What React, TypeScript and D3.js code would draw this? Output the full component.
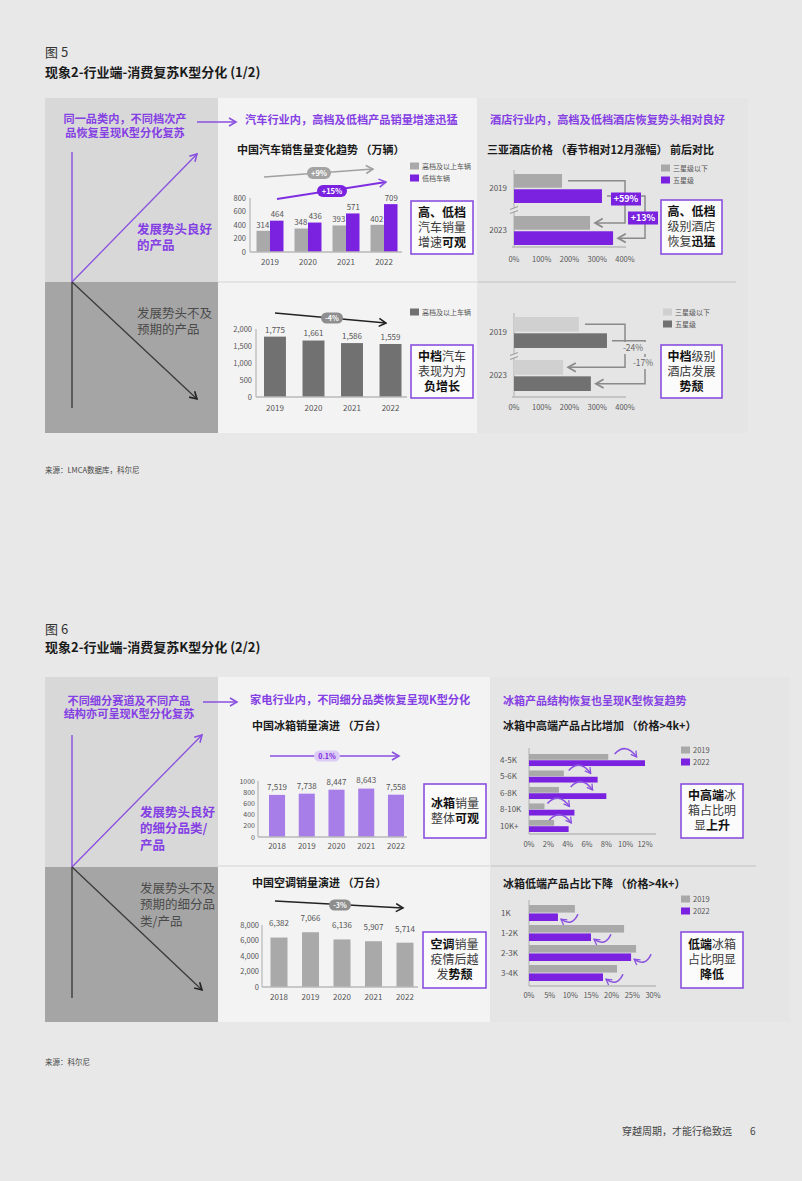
import React from 'react';
import * as d3 from 'd3';

// ---------- data ----------
const carYears = ['2019', '2020', '2021', '2022'];
const carHigh = [314, 348, 393, 402];
const carLow = [464, 436, 571, 709];
const carMid = [1775, 1661, 1586, 1559];
const carTicksTop = [0, 200, 400, 600, 800];
const carTicksBottom = [0, 500, 1000, 1500, 2000];

const hotelYears = ['2019', '2023'];
const hotelTopThree = [173, 274];
const hotelTopFive = [317, 357];
const hotelMidThree = [234, 177];
const hotelMidFive = [335, 277];
const hotelTicks = [0, 100, 200, 300, 400];

const fridgeYears = ['2018', '2019', '2020', '2021', '2022'];
const fridgeSales = [7519, 7738, 8447, 8643, 7558];
const fridgeTicks = [0, 2000, 4000, 6000, 8000, 10000];
const fridgeTickLabels = ['0', '200', '400', '600', '800', '1000'];
const acSales = [6382, 7066, 6136, 5907, 5714];
const acTicks = [0, 2000, 4000, 6000, 8000];

const highCats = ['4-5K', '5-6K', '6-8K', '8-10K', '10K+'];
const high2019 = [8.2, 3.6, 3.1, 1.6, 2.6];
const high2022 = [12.0, 7.1, 8.0, 4.7, 4.1];
const highTicks = [0, 2, 4, 6, 8, 10, 12];

const lowCats = ['1K', '1-2K', '2-3K', '3-4K'];
const low2019 = [11.1, 23.0, 25.9, 21.3];
const low2022 = [7.0, 15.0, 24.7, 17.9];
const lowTicks = [0, 5, 10, 15, 20, 25, 30];

// ---------- style ----------
const FONT = '"Noto Sans CJK SC", "Noto Sans", sans-serif';
const PURPLE = '#7a22e0';
const PURPLE_TXT = '#8540e4';
const LIGHT_PURPLE = '#a77ee8';
const PAGE_BG = '#e8e8e8';
const MID_BG = '#f3f3f3';
const RIGHT_BG = '#e5e5e5';
const LEFT_TOP = '#d8d8d8';
const LEFT_BOT = '#a5a5a5';
const GRAY_BAR = '#a9a9a9';
const DARK_BAR = '#717171';
const LIGHT_BAR = '#d0d0d0';
const TICK = '#555';
const AXIS = '#b8b8b8';

const fmtC = d3.format(',');

function Txt({ x, y, s = 8, w = 400, c = TICK, a = 'start', children }: any) {
  return (
    <text x={x} y={y + s * 0.36} fontSize={s} fontWeight={w} fill={c} textAnchor={a}>
      {children}
    </text>
  );
}

function Callout({ x, y, w, h, lines }: any) {
  const s = 12;
  const lh = 15;
  const cy = y + h / 2;
  const start = cy - ((lines.length - 1) * lh) / 2;
  return (
    <g>
      <rect x={x} y={y} width={w} height={h} fill="#fbfbfb" stroke="#8a4fe0" strokeWidth={1.6} />
      {lines.map((ln: any, i: number) => (
        <text key={i} x={x + w / 2} y={start + i * lh + s * 0.36} fontSize={s} textAnchor="middle">
          {ln.map((p: any, j: number) => (
            <tspan key={j} fontWeight={p[1] ? 700 : 400} fill={p[1] ? '#111' : '#3a3a3a'}>
              {p[0]}
            </tspan>
          ))}
        </text>
      ))}
    </g>
  );
}

function Pill({ cx, cy, w, h, fill, text, tc = '#fff', s = 7.5 }: any) {
  return (
    <g>
      <rect x={cx - w / 2} y={cy - h / 2} width={w} height={h} rx={h / 2} fill={fill} />
      <Txt x={cx} y={cy} s={s} w={700} c={tc} a="middle">{text}</Txt>
    </g>
  );
}

function Legend({ x, y, items, s = 7, gap = 12 }: any) {
  return (
    <g>
      {items.map((it: any, i: number) => (
        <g key={i}>
          <rect x={x} y={y + i * gap - 3.5} width={9} height={7} fill={it[1]} />
          <Txt x={x + 12} y={y + i * gap} s={s} c="#555">{it[0]}</Txt>
        </g>
      ))}
    </g>
  );
}

function AxisBreak({ x, y, bg }: any) {
  return (
    <g>
      <rect x={x - 4} y={y - 2} width={8} height={4} fill={bg} />
      <line x1={x - 4} y1={y - 0.5} x2={x + 4} y2={y - 3.5} stroke="#999" strokeWidth={1} />
      <line x1={x - 4} y1={y + 3.5} x2={x + 4} y2={y + 0.5} stroke="#999" strokeWidth={1} />
    </g>
  );
}

// ---------- K diagram ----------
function KPanel({ x, y, w, h, yDiv, vTop, vBot, upEnd, downEnd, intro, introX, introY, introLH, good, goodY, bad, badY, textX, arrowFrom, arrowTo, arrowY }: any) {
  const vx = 72;
  return (
    <g>
      <rect x={x} y={y} width={w} height={yDiv - y} fill={LEFT_TOP} />
      <rect x={x} y={yDiv} width={w} height={y + h - yDiv} fill={LEFT_BOT} />
      {intro.map((t: string, i: number) => (
        <Txt key={i} x={introX} y={introY + i * introLH} s={11.2} w={700} c={PURPLE_TXT} a="middle">{t}</Txt>
      ))}
      <line x1={arrowFrom} x2={arrowTo} y1={arrowY} y2={arrowY} stroke="#8a50e0" strokeWidth={1.6} markerEnd="url(#mP)" />
      <line x1={vx} x2={vx} y1={vTop} y2={yDiv} stroke="#8a50e0" strokeWidth={1.4} />
      <line x1={vx} x2={vx} y1={yDiv} y2={vBot} stroke="#3c3c3c" strokeWidth={1.4} />
      <line x1={vx} y1={yDiv} x2={upEnd[0]} y2={upEnd[1]} stroke="#8a50e0" strokeWidth={1.3} markerEnd="url(#mP)" />
      <line x1={vx} y1={yDiv} x2={downEnd[0]} y2={downEnd[1]} stroke="#3a3a3a" strokeWidth={1.3} markerEnd="url(#mK)" />
      {good.map((t: string, i: number) => (
        <Txt key={i} x={textX} y={goodY + i * 16.5} s={12.5} w={700} c={PURPLE_TXT}>{t}</Txt>
      ))}
      {bad.map((t: string, i: number) => (
        <Txt key={i} x={textX} y={badY + i * 16.5} s={12.5} w={400} c="#4a4a4a">{t}</Txt>
      ))}
    </g>
  );
}

// ---------- charts ----------
function CarTop() {
  const x = d3.scaleBand<string>().domain(carYears).range([256.5, 397.5]).paddingInner(0.29).paddingOuter(0);
  const sub = d3.scaleBand<string>().domain(['high', 'low']).range([0, x.bandwidth()]);
  const y = d3.scaleLinear().domain([0, 800]).range([252, 198]);
  return (
    <g>
      <Txt x={237} y={150} s={11} w={700} c="#1a1a1a">中国汽车销售量变化趋势 （万辆）</Txt>
      <line x1={264} y1={177} x2={373} y2={169} stroke="#a0a0a0" strokeWidth={1.5} markerEnd="url(#mG)" />
      <Pill cx={319} cy={173} w={24} h={12} fill="#a3a3a3" text="+9%" />
      <line x1={277} y1={199} x2={386} y2={182} stroke="#7f2fe0" strokeWidth={1.8} markerEnd="url(#mP)" />
      <Pill cx={332} cy={191} w={30} h={12} fill={PURPLE} text="+15%" />
      <Legend x={410} y={166} items={[['高档及以上车辆', GRAY_BAR], ['低档车辆', PURPLE]]} />
      {carTicksTop.map((t) => (
        <Txt key={t} x={246} y={y(t)} s={7.5} a="end">{t}</Txt>
      ))}
      <line x1={250} x2={250} y1={y(0)} y2={y(800)} stroke={AXIS} strokeWidth={1.2} />
      {carYears.map((yr, i) => {
        const bx = x(yr) as number;
        const bw = sub.bandwidth();
        return (
          <g key={yr}>
            <rect x={bx} y={y(carHigh[i])} width={bw} height={y(0) - y(carHigh[i])} fill={GRAY_BAR} />
            <rect x={bx + (sub('low') as number)} y={y(carLow[i])} width={bw} height={y(0) - y(carLow[i])} fill={PURPLE} />
            <Txt x={bx + bw / 2 - 0.5} y={y(carHigh[i]) - 6} s={7.8} a="middle" c="#555">{carHigh[i]}</Txt>
            <Txt x={bx + bw * 1.5 + 0.5} y={y(carLow[i]) - 6} s={7.8} a="middle" c="#555">{carLow[i]}</Txt>
            <Txt x={bx + x.bandwidth() / 2} y={262} s={8} a="middle" c="#555">{yr}</Txt>
          </g>
        );
      })}
      <line x1={250} x2={402} y1={252} y2={252} stroke={AXIS} strokeWidth={1.5} />
      <Callout x={411} y={201} w={62} h={53} lines={[[['高、低档', 1]], [['汽车销量', 0]], [['增速', 0], ['可观', 1]]]} />
    </g>
  );
}

function CarBottom() {
  const x = d3.scaleBand<string>().domain(carYears).range([264, 401.5]).paddingInner(0.43).paddingOuter(0);
  const y = d3.scaleLinear().domain([0, 2000]).range([397, 329]);
  return (
    <g>
      <line x1={275} y1={313} x2={386} y2={323} stroke="#222" strokeWidth={1.5} markerEnd="url(#mK)" />
      <Pill cx={332} cy={318} w={22} h={11} fill="#8e8e8e" text="-4%" s={7} />
      <Legend x={410} y={312} items={[['高档及以上车辆', DARK_BAR]]} />
      {carTicksBottom.map((t) => (
        <Txt key={t} x={252} y={y(t)} s={7.5} a="end">{fmtC(t)}</Txt>
      ))}
      <line x1={256} x2={256} y1={y(0)} y2={y(2000)} stroke={AXIS} strokeWidth={1.2} />
      {carYears.map((yr, i) => {
        const bx = x(yr) as number;
        const bw = x.bandwidth();
        return (
          <g key={yr}>
            <rect x={bx} y={y(carMid[i])} width={bw} height={y(0) - y(carMid[i])} fill={DARK_BAR} />
            <Txt x={bx + bw / 2} y={y(carMid[i]) - 7} s={8} a="middle" c="#555">{fmtC(carMid[i])}</Txt>
            <Txt x={bx + bw / 2} y={408} s={8} a="middle" c="#555">{yr}</Txt>
          </g>
        );
      })}
      <line x1={256} x2={407} y1={397} y2={397} stroke={AXIS} strokeWidth={1.5} />
      <Callout x={411} y={345} w={62} h={53} lines={[[['中档', 1], ['汽车', 0]], [['表现为为', 0]], [['负增长', 1]]]} />
    </g>
  );
}

function HotelChart({ three, five, c3, c5, yRange, axisTop, axisY, brk, labels, labelStyle, bracketX, labelPos, tickY, bg }: any) {
  const x = d3.scaleLinear().domain([0, 400]).range([514, 625]);
  const yb = d3.scaleBand<string>().domain(hotelYears).range(yRange).paddingInner(yRange[0] === 174 ? 0.31 : 0.28).paddingOuter(0);
  const sub = d3.scaleBand<string>().domain(['a', 'b']).range([0, yb.bandwidth()]).paddingInner(0.1);
  const bh = sub.bandwidth();
  const cyA = (yr: string) => (yb(yr) as number) + (sub('a') as number) + bh / 2;
  const cyB = (yr: string) => (yb(yr) as number) + (sub('b') as number) + bh / 2;
  return (
    <g>
      <line x1={514} x2={514} y1={axisTop} y2={axisY} stroke={AXIS} strokeWidth={1.2} />
      <AxisBreak x={514} y={brk} bg={bg} />
      {hotelYears.map((yr, i) => (
        <g key={yr}>
          <rect x={514} y={(yb(yr) as number) + (sub('a') as number)} width={x(three[i]) - 514} height={bh} fill={c3} />
          <rect x={514} y={(yb(yr) as number) + (sub('b') as number)} width={x(five[i]) - 514} height={bh} fill={c5} />
          <Txt x={507} y={(yb(yr) as number) + yb.bandwidth() / 2} s={8} a="end" c="#555">{yr}</Txt>
        </g>
      ))}
      <line x1={512} x2={626} y1={axisY} y2={axisY} stroke={AXIS} strokeWidth={1.5} />
      {hotelTicks.map((t) => (
        <Txt key={t} x={x(t)} y={tickY} s={7.5} a="middle">{t + '%'}</Txt>
      ))}
      <path d={`M${x(three[0]) + 6},${cyA('2019')} H${bracketX[0]} V${cyA('2023')} H${x(three[1]) + 5}`} fill="none" stroke="#8a8a8a" strokeWidth={1.5} markerEnd="url(#mG2)" />
      <path d={`M${x(five[0]) + 5},${cyB('2019')} H${bracketX[1]} V${cyB('2023')} H${x(five[1]) + 5}`} fill="none" stroke="#8a8a8a" strokeWidth={1.5} markerEnd="url(#mG2)" />
      {labels.map((l: string, i: number) => (
        labelStyle === 'purple' ? (
          <g key={l}>
            <rect x={labelPos[i][0] - 15} y={labelPos[i][1] - 6.5} width={30} height={13} fill={PURPLE} />
            <Txt x={labelPos[i][0]} y={labelPos[i][1]} s={9} w={700} c="#fff" a="middle">{l}</Txt>
          </g>
        ) : (
          <g key={l}>
            <rect x={labelPos[i][0] - 14} y={labelPos[i][1] - 6} width={28} height={12} fill={bg} />
            <Txt x={labelPos[i][0]} y={labelPos[i][1]} s={8.5} c="#666" a="middle">{l}</Txt>
          </g>
        )
      ))}
    </g>
  );
}

function FridgeChart() {
  const x = d3.scaleBand<string>().domain(fridgeYears).range([269, 404]).paddingInner(0.46).paddingOuter(0);
  const y = d3.scaleLinear().domain([0, 10000]).range([837, 781]);
  return (
    <g>
      <Txt x={252} y={726} s={11} w={700} c="#1a1a1a">中国冰箱销量演进 （万台）</Txt>
      <line x1={270} y1={756} x2={399} y2={756} stroke="#8a50e0" strokeWidth={1.6} markerEnd="url(#mP)" />
      <Pill cx={327} cy={756} w={26} h={11} fill="#dccbf5" text="0.1%" tc={PURPLE} s={7} />
      {fridgeTicks.map((t, i) => (
        <Txt key={t} x={255} y={y(t)} s={7} a="end">{fridgeTickLabels[i]}</Txt>
      ))}
      <line x1={258} x2={258} y1={y(0)} y2={y(10000)} stroke={AXIS} strokeWidth={1.2} />
      {fridgeYears.map((yr, i) => {
        const bx = x(yr) as number;
        const bw = x.bandwidth();
        return (
          <g key={yr}>
            <rect x={bx} y={y(fridgeSales[i])} width={bw} height={y(0) - y(fridgeSales[i])} fill={LIGHT_PURPLE} />
            <Txt x={bx + bw / 2} y={y(fridgeSales[i]) - 8} s={8} a="middle" c="#555">{fmtC(fridgeSales[i])}</Txt>
            <Txt x={bx + bw / 2} y={846} s={8} a="middle" c="#555">{yr}</Txt>
          </g>
        );
      })}
      <line x1={258} x2={407} y1={837} y2={837} stroke={AXIS} strokeWidth={1.5} />
      <Callout x={424} y={784} w={62} h={54} lines={[[['冰箱', 1], ['销量', 0]], [['整体', 0], ['可观', 1]]]} />
    </g>
  );
}

function ACChart() {
  const x = d3.scaleBand<string>().domain(fridgeYears).range([270.5, 413.5]).paddingInner(0.46).paddingOuter(0);
  const y = d3.scaleLinear().domain([0, 8000]).range([987, 925]);
  return (
    <g>
      <Txt x={252} y={883} s={11} w={700} c="#1a1a1a">中国空调销量演进 （万台）</Txt>
      <line x1={275} y1={901} x2={403} y2={908} stroke="#222" strokeWidth={1.5} markerEnd="url(#mK)" />
      <Pill cx={340} cy={905} w={22} h={11} fill="#8e8e8e" text="-3%" s={7} />
      {acTicks.map((t) => (
        <Txt key={t} x={259} y={y(t)} s={7.5} a="end">{fmtC(t)}</Txt>
      ))}
      <line x1={262} x2={262} y1={y(0)} y2={y(8000)} stroke={AXIS} strokeWidth={1.2} />
      {fridgeYears.map((yr, i) => {
        const bx = x(yr) as number;
        const bw = x.bandwidth();
        return (
          <g key={yr}>
            <rect x={bx} y={y(acSales[i])} width={bw} height={y(0) - y(acSales[i])} fill={GRAY_BAR} />
            <Txt x={bx + bw / 2} y={y(acSales[i]) - 14} s={8} a="middle" c="#555">{fmtC(acSales[i])}</Txt>
            <Txt x={bx + bw / 2} y={997} s={8} a="middle" c="#555">{yr}</Txt>
          </g>
        );
      })}
      <line x1={262} x2={418} y1={987} y2={987} stroke={AXIS} strokeWidth={1.5} />
      <Callout x={423} y={932} w={63} h={56} lines={[[['空调', 1], ['销量', 0]], [['疫情后越', 0]], [['发', 0], ['势颓', 1]]]} />
    </g>
  );
}

function HighEnd() {
  const x = d3.scaleLinear().domain([0, 12]).range([529, 645]);
  const yb = d3.scaleBand<string>().domain(highCats).range([754, 832]).paddingInner(0.27).paddingOuter(0);
  const sub = d3.scaleBand<string>().domain(['a', 'b']).range([0, yb.bandwidth()]).paddingInner(0.08);
  const bh = sub.bandwidth();
  return (
    <g>
      <Txt x={503} y={701} s={11} w={700} c={PURPLE_TXT}>冰箱产品结构恢复也呈现K型恢复趋势</Txt>
      <Txt x={503} y={726} s={11} w={700} c="#1a1a1a">冰箱中高端产品占比增加 （价格&gt;4k+）</Txt>
      <Legend x={681} y={750} s={7.5} items={[['2019', GRAY_BAR], ['2022', PURPLE]]} />
      <line x1={529} x2={529} y1={748} y2={834} stroke={AXIS} strokeWidth={1.2} />
      {highCats.map((c, i) => {
        const by = yb(c) as number;
        const gx = x(high2019[i]);
        const px = x(high2022[i]);
        const mid = (gx + px) / 2;
        const top = by - 1;
        return (
          <g key={c}>
            <rect x={529} y={by} width={gx - 529} height={bh} fill={GRAY_BAR} />
            <rect x={529} y={by + (sub('b') as number)} width={px - 529} height={bh} fill={PURPLE} />
            <Txt x={500} y={by + yb.bandwidth() / 2} s={8} c="#555">{c}</Txt>
            <path d={`M${mid - 12},${top + 1} Q${mid - 1},${top - 11} ${mid + 10},${top + 4}`} fill="none" stroke="#8a50e0" strokeWidth={1.6} markerEnd="url(#mPs)" />
          </g>
        );
      })}
      <line x1={529} x2={656} y1={834} y2={834} stroke={AXIS} strokeWidth={1.5} />
      {highTicks.map((t) => (
        <Txt key={t} x={x(t)} y={844} s={7.5} a="middle">{t + '%'}</Txt>
      ))}
      <Callout x={681} y={784} w={62} h={54} lines={[[['中高端', 1], ['冰', 0]], [['箱占比明', 0]], [['显', 0], ['上升', 1]]]} />
    </g>
  );
}

function LowEnd() {
  const x = d3.scaleLinear().domain([0, 30]).range([529, 653]);
  const yb = d3.scaleBand<string>().domain(lowCats).range([905, 981]).paddingInner(0.2).paddingOuter(0);
  const sub = d3.scaleBand<string>().domain(['a', 'b']).range([0, yb.bandwidth()]).paddingInner(0.1);
  const bh = sub.bandwidth();
  return (
    <g>
      <Txt x={503} y={884} s={11} w={700} c="#1a1a1a">冰箱低端产品占比下降 （价格&gt;4k+）</Txt>
      <Legend x={681} y={899} s={7.5} items={[['2019', GRAY_BAR], ['2022', PURPLE]]} />
      <line x1={529} x2={529} y1={900} y2={986} stroke={AXIS} strokeWidth={1.2} />
      {lowCats.map((c, i) => {
        const by = yb(c) as number;
        const gx = x(low2019[i]);
        const px = x(low2022[i]);
        const py = by + (sub('b') as number) + bh / 2;
        return (
          <g key={c}>
            <rect x={529} y={by} width={gx - 529} height={bh} fill={GRAY_BAR} />
            <rect x={529} y={by + (sub('b') as number)} width={px - 529} height={bh} fill={PURPLE} />
            <Txt x={501} y={by + yb.bandwidth() / 2} s={8} c="#555">{c}</Txt>
            <path d={`M${px + 20},${py - 3} Q${px + 14},${py + 10} ${px + 3},${py + 2}`} fill="none" stroke="#8a50e0" strokeWidth={1.6} markerEnd="url(#mPs)" />
          </g>
        );
      })}
      <line x1={529} x2={656} y1={986} y2={986} stroke={AXIS} strokeWidth={1.5} />
      {lowTicks.map((t) => (
        <Txt key={t} x={x(t)} y={995} s={7.5} a="middle">{t + '%'}</Txt>
      ))}
      <Callout x={681} y={932} w={62} h={56} lines={[[['低端', 1], ['冰箱', 0]], [['占比明显', 0]], [['降低', 1]]]} />
    </g>
  );
}

function Marker({ id, color, size = 8 }: any) {
  return (
    <marker id={id} viewBox="0 0 10 10" refX={8.5} refY={5} markerWidth={size} markerHeight={size} orient="auto" markerUnits="userSpaceOnUse">
      <path d="M1.5,1 L8.5,5 L1.5,9" fill="none" stroke={color} strokeWidth={1.6} strokeLinejoin="miter" />
    </marker>
  );
}

export default function App() {
  return (
    <svg width={802} height={1181} style={{ position: 'absolute', left: 0, top: 0, fontFamily: FONT }}>
      <defs>
        <Marker id="mP" color="#8a50e0" size={10} />
        <Marker id="mPs" color="#8a50e0" size={8} />
        <Marker id="mK" color="#222" size={10} />
        <Marker id="mG" color="#a0a0a0" size={10} />
        <Marker id="mG2" color="#8a8a8a" size={11} />
      </defs>
      <rect x={0} y={0} width={802} height={1181} fill={PAGE_BG} />

      {/* ===== Figure 5 ===== */}
      <Txt x={45} y={52} s={13} c="#333">图 5</Txt>
      <Txt x={45} y={72} s={13} w={700} c="#1a1a1a">现象2-行业端-消费复苏K型分化 (1/2)</Txt>

      <rect x={218} y={98} width={259} height={335} fill={MID_BG} />
      <rect x={477} y={98} width={271} height={335} fill={RIGHT_BG} />
      <line x1={218} x2={477} y1={282} y2={282} stroke="#dedede" strokeWidth={1.5} />
      <line x1={478} x2={736} y1={282} y2={282} stroke="#cdcdcd" strokeWidth={1.5} />

      <KPanel x={45} y={98} w={173} h={335} yDiv={282} vTop={152} vBot={408}
        upEnd={[197, 154]} downEnd={[197, 399]}
        intro={['同一品类内，不同档次产', '品恢复呈现K型分化复苏']} introX={125} introY={119} introLH={14}
        good={['发展势头良好', '的产品']} goodY={229} bad={['发展势头不及', '预期的产品']} badY={313} textX={137}
        arrowFrom={197} arrowTo={236} arrowY={122} />

      <Txt x={245} y={120} s={11.2} w={700} c={PURPLE_TXT}>汽车行业内，高档及低档产品销量增速迅猛</Txt>
      <CarTop />
      <CarBottom />

      <Txt x={490} y={120} s={11.2} w={700} c={PURPLE_TXT}>酒店行业内，高档及低档酒店恢复势头相对良好</Txt>
      <Txt x={487} y={150} s={11} w={700} c="#1a1a1a">三亚酒店价格 （春节相对12月涨幅） 前后对比</Txt>
      <Legend x={661} y={168} s={7} items={[['三星级以下', GRAY_BAR], ['五星级', PURPLE]]} />
      <HotelChart three={hotelTopThree} five={hotelTopFive} c3={GRAY_BAR} c5={PURPLE}
        yRange={[174, 245]} axisTop={170} axisY={247} brk={210}
        labels={['+59%', '+13%']} labelStyle="purple" bracketX={[625, 645]}
        labelPos={[[626, 199], [643, 218]]} tickY={259} bg={RIGHT_BG} />
      <Callout x={661} y={200} w={61} h={54} lines={[[['高、低档', 1]], [['级别酒店', 0]], [['恢复', 0], ['迅猛', 1]]]} />

      <Legend x={663} y={312} s={7} items={[['三星级以下', LIGHT_BAR], ['五星级', DARK_BAR]]} />
      <HotelChart three={hotelMidThree} five={hotelMidFive} c3={LIGHT_BAR} c5={DARK_BAR}
        yRange={[317, 391]} axisTop={313} axisY={397} brk={356}
        labels={['-24%', '-17%']} labelStyle="gray" bracketX={[625, 645]}
        labelPos={[[633, 348], [643, 363]]} tickY={407} bg={RIGHT_BG} />
      <Callout x={661} y={345} w={61} h={53} lines={[[['中档', 1], ['级别', 0]], [['酒店发展', 0]], [['势颓', 1]]]} />

      <Txt x={45} y={470} s={7.5} c="#444">来源：LMCA数据库，科尔尼</Txt>

      {/* ===== Figure 6 ===== */}
      <Txt x={45} y={629} s={13} c="#333">图 6</Txt>
      <Txt x={45} y={647} s={13} w={700} c="#1a1a1a">现象2-行业端-消费复苏K型分化 (2/2)</Txt>

      <rect x={218} y={677} width={272} height={345} fill={MID_BG} />
      <rect x={490} y={677} width={300} height={345} fill={RIGHT_BG} />
      <line x1={218} x2={490} y1={866} y2={866} stroke="#dedede" strokeWidth={1.5} />
      <line x1={491} x2={756} y1={866} y2={866} stroke="#cdcdcd" strokeWidth={1.5} />

      <KPanel x={45} y={677} w={173} h={345} yDiv={867} vTop={735} vBot={998}
        upEnd={[202, 735]} downEnd={[202, 990]}
        intro={['不同细分赛道及不同产品', '结构亦可呈现K型分化复苏']} introX={129} introY={701} introLH={12.7}
        good={['发展势头良好', '的细分品类/', '产品']} goodY={812} bad={['发展势头不及', '预期的细分品', '类/产品']} badY={888} textX={140}
        arrowFrom={203} arrowTo={237} arrowY={702} />

      <Txt x={250} y={700} s={11.2} w={700} c={PURPLE_TXT}>家电行业内，不同细分品类恢复呈现K型分化</Txt>
      <FridgeChart />
      <ACChart />
      <HighEnd />
      <LowEnd />

      <Txt x={45} y={1062} s={7.5} c="#444">来源：科尔尼</Txt>

      <Txt x={622} y={1131} s={10} c="#444">穿越周期，才能行稳致远</Txt>
      <Txt x={750} y={1131} s={10} c="#444">6</Txt>
    </svg>
  );
}
